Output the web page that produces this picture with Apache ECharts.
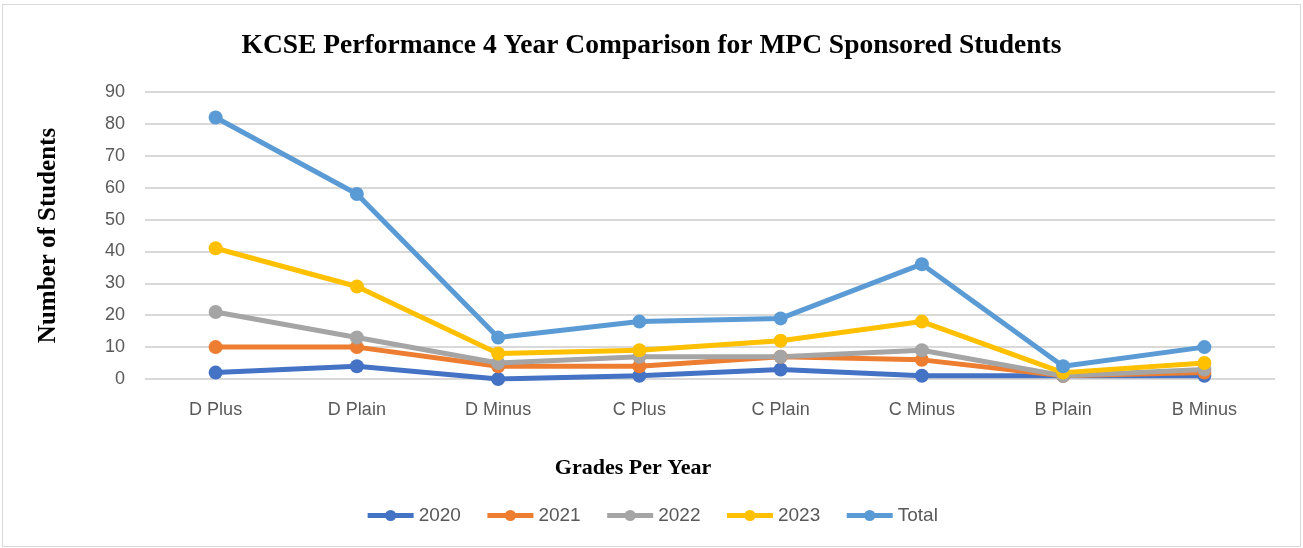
<!DOCTYPE html>
<html>
<head>
<meta charset="utf-8">
<script src="https://cdn.jsdelivr.net/npm/echarts@6/dist/echarts.min.js"></script>
<style>
  html, body { margin: 0; padding: 0; background: #fff; }
  #wrap { position: absolute; left: 2px; top: 4px; width: 1297px; height: 541px; border: 1px solid #d9d9d9; }
  #chart { position: absolute; left: 0; top: 0; width: 1303px; height: 548px; }
</style>
</head>
<body>
<div id="wrap"></div>
<div id="chart"></div>
<script>
var grades = ['D Plus', 'D Plain', 'D Minus', 'C Plus', 'C Plain', 'C Minus', 'B Plain', 'B Minus'];
var y2020 = [2, 4, 0, 1, 3, 1, 1, 1];
var y2021 = [10, 10, 4, 4, 7, 6, 1, 2];
var y2022 = [21, 13, 5, 7, 7, 9, 1, 3];
var y2023 = [41, 29, 8, 9, 12, 18, 2, 5];
var total = [82, 58, 13, 18, 19, 36, 4, 10];
var yTicks = [0, 10, 20, 30, 40, 50, 60, 70, 80, 90];

var myChart = echarts.init(document.getElementById('chart'));

function line(name, data, color) {
    return {
        name: name,
        type: 'line',
        data: data,
        symbol: 'circle',
        symbolSize: 14,
        lineStyle: { color: color, width: 5 },
        itemStyle: { color: color },
        emphasis: { disabled: true }
    };
}

var option = {
    animation: false,
    title: {
        text: 'KCSE Performance 4 Year Comparison for MPC Sponsored Students',
        left: 'center',
        top: 27,
        textStyle: { fontFamily: 'Liberation Serif', fontWeight: 'bold', fontSize: 27.5, color: '#000' }
    },
    legend: {
        bottom: 18,
        left: 'center',
        itemWidth: 46,
        itemHeight: 14,
        itemGap: 24,
        lineStyle: { width: 5 },
        textStyle: { fontFamily: 'Liberation Sans', fontSize: 19, color: '#595959' },
        data: ['2020', '2021', '2022', '2023', 'Total']
    },
    grid: { left: 145, right: 28, top: 92, bottom: 169 },
    xAxis: {
        type: 'category',
        data: grades,
        name: 'Grades Per Year',
        nameLocation: 'middle',
        nameGap: 78,
        nameTextStyle: { fontFamily: 'Liberation Serif', fontWeight: 'bold', fontSize: 22, color: '#000', padding: [0, 154, 0, 0] },
        axisLine: { lineStyle: { color: '#d9d9d9' } },
        axisTick: { show: false },
        axisLabel: { fontFamily: 'Liberation Sans', fontSize: 18, color: '#595959', margin: 22 }
    },
    yAxis: {
        type: 'value',
        min: yTicks[0],
        max: yTicks[yTicks.length - 1],
        interval: 10,
        name: 'Number of Students',
        nameLocation: 'middle',
        nameGap: 84,
        nameTextStyle: { fontFamily: 'Liberation Serif', fontWeight: 'bold', fontSize: 25, color: '#000' },
        axisLine: { show: false },
        axisTick: { show: false },
        splitLine: { lineStyle: { color: '#d9d9d9', width: 2 } },
        axisLabel: { fontFamily: 'Liberation Sans', fontSize: 18, color: '#595959', margin: 20 }
    },
    series: [
        line('2020', y2020, '#4472C4'),
        line('2021', y2021, '#ED7D31'),
        line('2022', y2022, '#A5A5A5'),
        line('2023', y2023, '#FFC000'),
        line('Total', total, '#5B9BD5')
    ]
};
myChart.setOption(option);
</script>
</body>
</html>
